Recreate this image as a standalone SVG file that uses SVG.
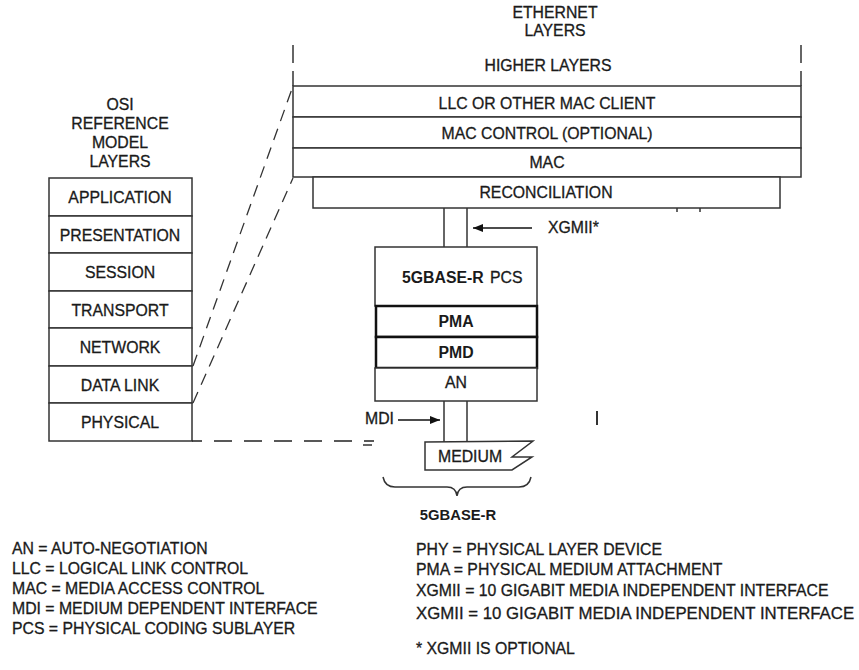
<svg xmlns="http://www.w3.org/2000/svg" width="859" height="670" viewBox="0 0 859 670">
  <defs>
    <marker id="arrow" viewBox="0 0 10 8" refX="10" refY="4" markerWidth="10" markerHeight="8" markerUnits="userSpaceOnUse" orient="auto">
      <path d="M0,0 L10,4 L0,8 Z" fill="#111"/>
    </marker>
    <style>
      text { font-family: "Liberation Sans", Arial, sans-serif; fill: #1a1a1a; stroke: #1a1a1a; stroke-width: 0.3; font-size: 15.8px; }
      .c { text-anchor: middle; }
      .b { font-weight: bold; stroke-width: 0; }
      .sm { font-size: 14.8px; }
      .lg { font-size: 16.8px; }
      .box { fill: #fff; stroke: #333; stroke-width: 1.5; }
      .heavy { fill: #fff; stroke: #111; stroke-width: 2.5; }
      .ln { fill: none; stroke: #333; stroke-width: 1.5; }
      .dash { fill: none; stroke: #333; stroke-width: 1.3; stroke-dasharray: 12 8; }
      .hdash { fill: none; stroke: #222; stroke-width: 1.5; stroke-dasharray: 18 12; }
    </style>
  </defs>
  <rect width="859" height="670" fill="#fff"/>

  <!-- OSI reference model stack -->
  <g id="osi-title">
    <text class="c" x="120" y="110">OSI</text>
    <text class="c" x="120" y="129">REFERENCE</text>
    <text class="c" x="120" y="148">MODEL</text>
    <text class="c" x="120" y="167">LAYERS</text>
  </g>
  <g id="osi-application"><rect class="box" x="49" y="178" width="143" height="38"/><text class="c" x="120" y="203">APPLICATION</text></g>
  <g id="osi-presentation"><rect class="box" x="49" y="216" width="143" height="37"/><text class="c" x="120" y="241">PRESENTATION</text></g>
  <g id="osi-session"><rect class="box" x="49" y="253" width="143" height="38"/><text class="c" x="120" y="278">SESSION</text></g>
  <g id="osi-transport"><rect class="box" x="49" y="291" width="143" height="37"/><text class="c" x="120" y="316">TRANSPORT</text></g>
  <g id="osi-network"><rect class="box" x="49" y="328" width="143" height="38"/><text class="c" x="120" y="353">NETWORK</text></g>
  <g id="osi-datalink"><rect class="box" x="49" y="366" width="143" height="37"/><text class="c" x="120" y="391">DATA LINK</text></g>
  <g id="osi-physical"><rect class="box" x="49" y="403" width="143" height="38"/><text class="c" x="120" y="428">PHYSICAL</text></g>

  <!-- Ethernet layers -->
  <g id="eth-title">
    <text class="c" x="555" y="18">ETHERNET</text>
    <text class="c" x="555" y="36">LAYERS</text>
  </g>
  <g id="eth-higher">
    <line class="ln" x1="293" y1="45" x2="293" y2="63"/>
    <line class="ln" x1="801" y1="45" x2="801" y2="63"/>
    <line class="ln" x1="293" y1="71" x2="293" y2="86"/>
    <line class="ln" x1="801" y1="71" x2="801" y2="86"/>
    <text class="c" x="548" y="71">HIGHER LAYERS</text>
  </g>
  <g id="eth-llc"><rect class="box" x="293" y="86" width="508" height="31"/><text class="c" x="547" y="109">LLC OR OTHER MAC CLIENT</text></g>
  <g id="eth-macctrl"><rect class="box" x="293" y="117" width="508" height="31"/><text class="c" x="547" y="139">MAC CONTROL (OPTIONAL)</text></g>
  <g id="eth-mac"><rect class="box" x="293" y="148" width="508" height="29"/><text class="c" x="547" y="168">MAC</text></g>
  <g id="eth-reconciliation"><rect class="box" x="313" y="177" width="467" height="31"/><text class="c" x="546" y="198">RECONCILIATION</text></g>

  <!-- PHY sublayers -->
  <g id="pcs"><rect class="box" x="375" y="247" width="162" height="59"/>
    <text x="402" y="283" class="b">5GBASE-R</text><text x="490" y="283">PCS</text></g>
  <g id="pma"><rect class="heavy" x="376" y="306" width="161" height="31"/><text class="c b" x="456" y="327">PMA</text></g>
  <g id="pmd"><rect class="heavy" x="376" y="337" width="161" height="31"/><text class="c b" x="456" y="358">PMD</text></g>
  <g id="an"><rect class="box" x="375" y="368" width="162" height="33"/><text class="c" x="456" y="388">AN</text></g>
  <g id="medium">
    <path class="ln" d="M425,442 L533,441 L512,457 L532,457 L512,470 L425,470 Z" fill="#fff"/>
    <text x="438" y="462">MEDIUM</text>
  </g>

  <!-- Connectors -->
  <g id="connectors">
    <line class="ln" x1="444" y1="208" x2="444" y2="247"/>
    <line class="ln" x1="467" y1="208" x2="467" y2="247"/>
    <line class="ln" x1="444" y1="401" x2="444" y2="442"/>
    <line class="ln" x1="467" y1="401" x2="467" y2="442"/>
    <line x1="532" y1="228" x2="473" y2="228" stroke="#111" stroke-width="1.5" marker-end="url(#arrow)"/>
    <line x1="398" y1="420" x2="440" y2="420" stroke="#111" stroke-width="1.5" marker-end="url(#arrow)"/>
    <line class="dash" x1="193" y1="366" x2="293" y2="86"/>
    <line class="dash" x1="193" y1="403" x2="293" y2="178"/>
    <line class="hdash" x1="192" y1="441" x2="374" y2="441" stroke-dashoffset="8"/>
    <path class="ln" d="M383,477 Q385,487 395,487 L447,487 Q456,487 457,496 Q458,487 467,487 L519,487 Q529,487 531,477"/>
    <line class="ln" x1="677" y1="208" x2="677" y2="212"/>
    <line class="ln" x1="700" y1="208" x2="700" y2="212"/>
  </g>

  <g id="labels">
    <text x="548" y="233">XGMII*</text>
    <text x="365" y="424">MDI</text>
    <line x1="597" y1="411" x2="597" y2="425" stroke="#333" stroke-width="2"/>
    <line x1="363" y1="445" x2="372" y2="445" stroke="#333" stroke-width="1.5"/>
    <text class="c b sm" x="458" y="520">5GBASE-R</text>
  </g>

  <!-- Abbreviations -->
  <g id="legend-left">
    <text x="12" y="554">AN = AUTO-NEGOTIATION</text>
    <text x="12" y="574">LLC = LOGICAL LINK CONTROL</text>
    <text x="12" y="594">MAC = MEDIA ACCESS CONTROL</text>
    <text x="12" y="614">MDI = MEDIUM DEPENDENT INTERFACE</text>
    <text x="12" y="634">PCS = PHYSICAL CODING SUBLAYER</text>
  </g>
  <g id="legend-right">
    <text x="416" y="555">PHY = PHYSICAL LAYER DEVICE</text>
    <text x="416" y="575">PMA = PHYSICAL MEDIUM ATTACHMENT</text>
    <text x="416" y="596">XGMII = 10 GIGABIT MEDIA INDEPENDENT INTERFACE</text>
    <text class="lg" x="416" y="619">XGMII = 10 GIGABIT MEDIA INDEPENDENT INTERFACE</text>
    <text x="416" y="654">* XGMII IS OPTIONAL</text>
  </g>
</svg>
